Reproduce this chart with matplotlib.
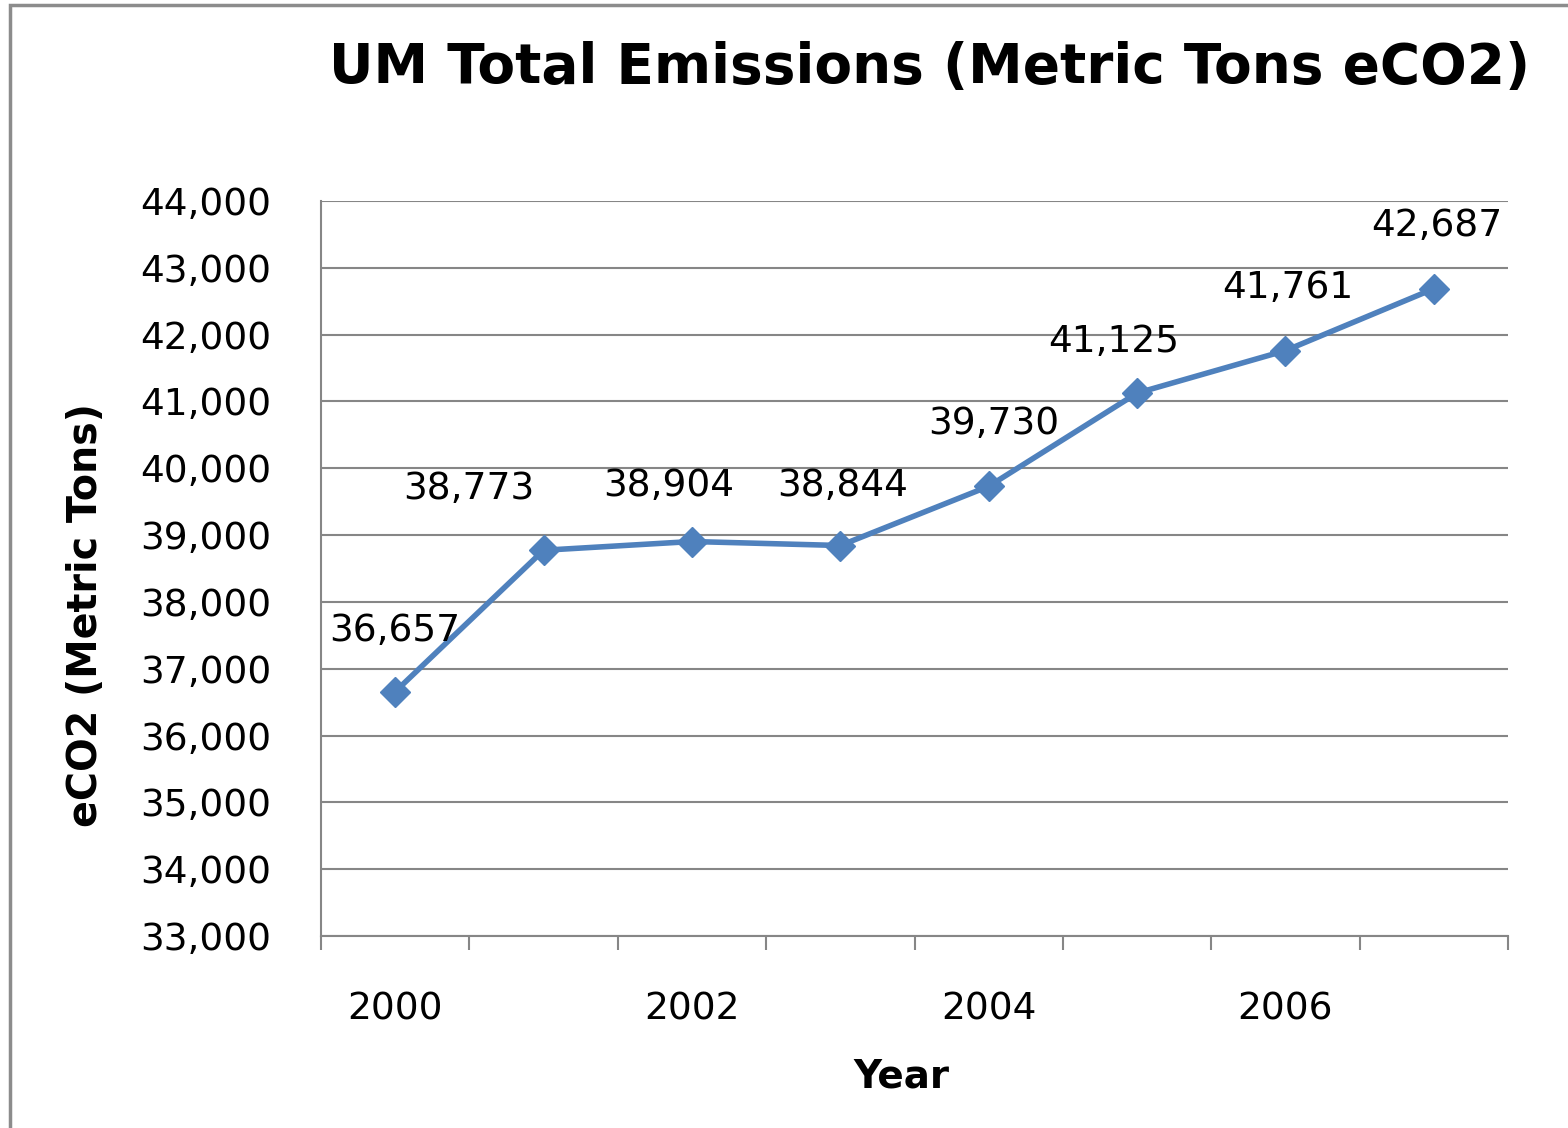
import matplotlib.pyplot as plt
from matplotlib.patches import Rectangle
from matplotlib.ticker import FuncFormatter

years = [2000, 2001, 2002, 2003, 2004, 2005, 2006, 2007]
emissions = [36657, 38773, 38904, 38844, 39730, 41125, 41761, 42687]
shown_years = ["2000", "", "2002", "", "2004", "", "2006", ""]

# label offsets in points (dx, dy) to mimic hand-moved Excel labels
label_offsets = [(0, 44), (-54, 44), (-17, 40), (2, 43), (4, 45), (-17, 37), (2, 45), (2, 45)]

plt.rcParams['font.family'] = ['DejaVu Sans']

fig = plt.figure(figsize=(15.68, 11.28), dpi=100)
fig.patches.append(Rectangle((10 / 1568, -0.1), 1.2, 1 - 5 / 1128 + 0.1, transform=fig.transFigure,
                             fill=False, edgecolor='#8c8c8c', linewidth=2.5))

ax = fig.add_axes([321 / 1568, 1 - 936 / 1128, (1508 - 321) / 1568, (936 - 201) / 1128])

xs = list(range(len(years)))
ax.plot(xs, emissions, color='#4f81bd', linewidth=4, marker='D', markersize=15,
        markerfacecolor='#4f81bd', markeredgecolor='#4f81bd', zorder=3)

for x, v, (dx, dy) in zip(xs, emissions, label_offsets):
    ax.annotate(f"{v:,}", (x, v), xytext=(dx, dy), textcoords='offset points',
                ha='center', va='center', fontsize=27, color='black')

ax.set_xlim(-0.5, len(years) - 0.5)
ax.set_ylim(33000, 44000)
ax.set_yticks(range(33000, 44001, 1000))
ax.yaxis.set_major_formatter(FuncFormatter(lambda v, p: f"{int(v):,}"))
ax.grid(axis='y', color='#868686', linewidth=1.5)
ax.set_axisbelow(True)

ax.set_xticks([x - 0.5 for x in xs] + [len(years) - 0.5])
ax.set_xticklabels([])
ax.set_xticks(xs, minor=True)
ax.set_xticklabels(shown_years, minor=True)
ax.tick_params(axis='x', which='major', length=10, width=1.5, color='#868686')
ax.tick_params(axis='x', which='minor', length=0, pad=40, labelsize=27)
ax.tick_params(axis='y', length=0, pad=36, labelsize=27)

for s in ['top', 'right']:
    ax.spines[s].set_visible(False)
for s in ['left', 'bottom']:
    ax.spines[s].set_color('#868686')
    ax.spines[s].set_linewidth(1.5)

ax.set_ylabel("eCO2 (Metric Tons)", fontsize=28.5, fontweight='bold')
ax.yaxis.set_label_coords(-0.181, 0.437)
ax.set_xlabel("Year", fontsize=28, fontweight='bold')
ax.xaxis.set_label_coords(0.489, -0.165)

fig.text(930 / 1568, 1 - 68 / 1128, "UM Total Emissions (Metric Tons eCO2)", ha='center', va='center',
         fontsize=39.5, fontweight='bold')

fig.savefig("out.png", dpi=100)
